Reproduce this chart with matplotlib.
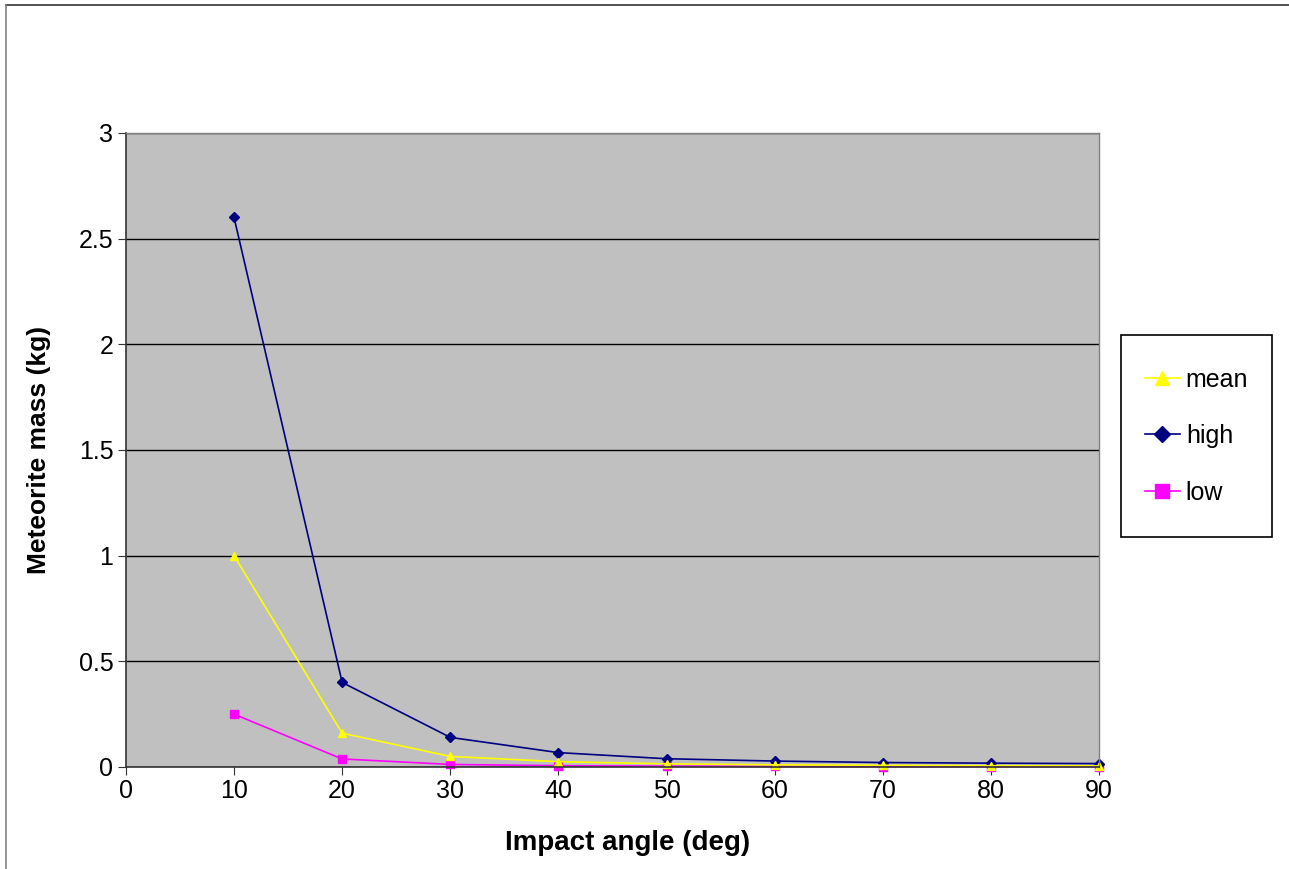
import matplotlib
matplotlib.use('Agg')
import matplotlib.pyplot as plt
from matplotlib.lines import Line2D
from matplotlib.patches import Rectangle

plt.rcParams['font.family'] = ['Liberation Sans', 'DejaVu Sans']

# impact angle (deg)
angle = [10, 20, 30, 40, 50, 60, 70, 80, 90]
# meteorite mass (kg)
mean = [1.0, 0.16, 0.05, 0.025, 0.015, 0.01, 0.008, 0.006, 0.005]
high = [2.6, 0.40, 0.14, 0.068, 0.039, 0.028, 0.021, 0.018, 0.016]
low = [0.25, 0.038, 0.012, 0.006, 0.004, 0.003, 0.002, 0.002, 0.002]

fig = plt.figure(figsize=(12.89, 8.69), dpi=100)
ax = fig.add_axes([0.0977, 0.1174, 0.7549, 0.7296])
ax.set_facecolor('#C0C0C0')

l_low, = ax.plot(angle, low, color='#FF00FF', marker='s', markersize=6, lw=1.2, label='low', clip_on=False)
l_high, = ax.plot(angle, high, color='#000080', marker='D', markersize=5, lw=1.2, label='high', clip_on=False)
l_mean, = ax.plot(angle, mean, color='#FFFF00', marker='^', markersize=6, lw=1.2, label='mean', clip_on=False)

ax.set_xlim(0, 90)
ax.set_ylim(0, 3)
ax.set_xticks(range(0, 91, 10))
ax.set_yticks([0, 0.5, 1, 1.5, 2, 2.5, 3])
ax.set_yticklabels(['0', '0.5', '1', '1.5', '2', '2.5', '3'])
ax.yaxis.grid(True, color='black', lw=1)
ax.set_axisbelow(True)
ax.tick_params(labelsize=18, length=6, direction='out', color='#333333', pad=3)

for s in ['left', 'bottom']:
    ax.spines[s].set_color('#333333')
    ax.spines[s].set_linewidth(1.2)
for s in ['top', 'right']:
    ax.spines[s].set_color('#808080')
    ax.spines[s].set_linewidth(1)

ax.set_xlabel('Impact angle (deg)', fontsize=20, fontweight='bold')
ax.xaxis.set_label_coords(0.515, -0.1)
ax.set_ylabel('Meteorite mass (kg)', fontsize=19, fontweight='bold', labelpad=20)

# legend box drawn separately so its size matches
fig.add_artist(Rectangle((0.8697, 0.382), 0.117, 0.2325, transform=fig.transFigure,
                         facecolor='white', edgecolor='black', lw=1.2))
leg = fig.legend(handles=[l_mean, l_high, l_low], loc='center',
                 bbox_to_anchor=(0.8697, 0.382, 0.117, 0.2325),
                 fontsize=18, frameon=False, labelspacing=1.3, handlelength=1.4,
                 handletextpad=0.25, markerscale=1.7)

# outer chart border (top and left)
fig.add_artist(Line2D([0.0047, 1.0], [0.9942, 0.9942], color='#333333', lw=1.2, transform=fig.transFigure))
fig.add_artist(Line2D([0.0047, 0.0047], [0.0, 0.9942], color='#808080', lw=1.2, transform=fig.transFigure))

fig.savefig('out.png', dpi=100)
